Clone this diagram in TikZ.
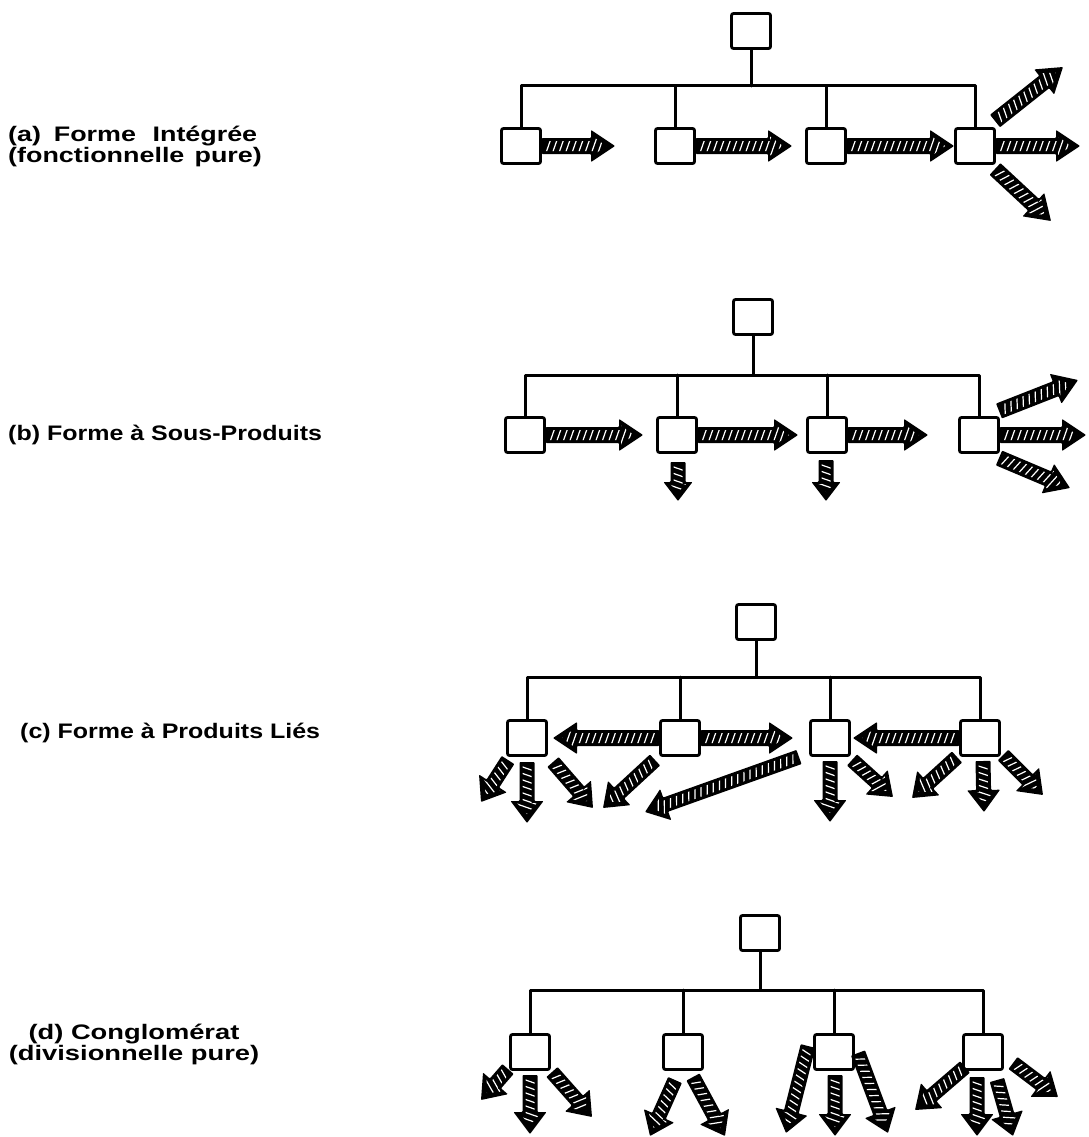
\documentclass[tikz,border=0pt]{standalone}
\usepackage{fontspec}
\setmainfont{Liberation Sans}
\usetikzlibrary{calc}

% two-line labels with a fixed line spacing
\newcommand{\lblleft}[2]{\vtop{\baselineskip=21pt\lineskiplimit=-200pt\halign{##\hfil\cr#1\cr#2\cr}}}
\newcommand{\lblcenter}[2]{\vtop{\baselineskip=21pt\lineskiplimit=-200pt\halign{\hfil##\hfil\cr#1\cr#2\cr}}}

% hatched block arrow: {from}{to}{shaft half width}{head half width}{head length}
\newdimen\hdx \newdimen\hdy
\newcommand{\harrowgen}[5]{%
  \path (#1) coordinate (hA) (#2) coordinate (hB);
  \pgfextractx{\hdx}{\pgfpointdiff{\pgfpointanchor{hA}{center}}{\pgfpointanchor{hB}{center}}}%
  \pgfextracty{\hdy}{\pgfpointdiff{\pgfpointanchor{hA}{center}}{\pgfpointanchor{hB}{center}}}%
  \pgfmathsetmacro\hlen{veclen(\hdx,\hdy)}%
  \pgfmathsetmacro\hang{atan2(\hdy,\hdx)}%
  \pgfmathtruncatemacro\hlenint{\hlen}%
  \begin{scope}[shift={(hA)}, rotate=\hang, x=1pt, y=1pt]
    \fill[black, rounded corners=0.8pt] (0,-#3) -- ({\hlen-#5},-#3) -- ({\hlen-#5},-#4) -- (\hlen,0)
      -- ({\hlen-#5},#4) -- ({\hlen-#5},#3) -- (0,#3) -- cycle;
    \begin{scope}
      \clip (2.5,{-#3+3}) -- ({\hlen-#5+2},{-#3+3}) -- ({\hlen-#5+2},{-#4+6.5}) -- ({\hlen-9},0)
        -- ({\hlen-#5+2},{#4-6.5}) -- ({\hlen-#5+2},{#3-3}) -- (2.5,{#3-3}) -- cycle;
      \foreach \s in {0,6.5,...,\hlenint}
        \draw[white, line width=1.2pt] ({\s-0.35*#4},{-#4}) -- ({\s+0.35*#4},{#4});
    \end{scope}
  \end{scope}}
\newcommand{\harrow}[2]{\harrowgen{#1}{#2}{8}{16}{24}}
\newcommand{\harrowb}[2]{\harrowgen{#1}{#2}{7.5}{16.5}{22}}
\newcommand{\harrows}[2]{\harrowgen{#1}{#2}{7.5}{14.5}{19}}

\tikzset{
  unit/.style={draw, line width=2.8pt, minimum width=39pt, minimum height=35pt,
    inner sep=0pt, rounded corners=2pt, fill=white},
  tree/.style={line width=3pt, line cap=round, line join=round},
  lbl/.style={inner sep=0pt, font=\fontsize{21}{21}\selectfont\bfseries}
}

\begin{document}
\begin{tikzpicture}[x=1pt, y=-1pt]
\fill[white] (0,0) rectangle (1088,1137);
\useasboundingbox (0,0) rectangle (1088,1137);

% ---------- labels ----------
\node[lbl, anchor=base west] (la) at (8,141)
  {\scalebox{1.28}[1]{\lblleft{(a)\hskip 10pt Forme\hskip 13pt Intégrée}{(fonctionnelle\hskip 8pt pure)}}};
\node[lbl, anchor=base west] (lb) at (8,440) {\scalebox{1.19}[1]{(b) Forme à Sous-Produits}};
\node[lbl, anchor=base west] (lc) at (20,738) {\scalebox{1.19}[1]{(c) Forme à Produits Liés}};
\node[lbl, anchor=base] (ld) at (134,1039)
  {\scalebox{1.3}[1]{\lblcenter{(d) Conglomérat}{(divisionnelle pure)}}};

% ---------- (a) integrated form ----------
\node[unit] (a0) at (751,31) {};
\node[unit] (a1) at (521,146) {};
\node[unit] (a2) at (675,146) {};
\node[unit] (a3) at (826,146) {};
\node[unit] (a4) at (975,146) {};
\coordinate (abus) at (751,86);
\draw[tree] (a0.south) -- (abus);
\draw[tree] (a1.north) -- (a1.north |- abus) -- (a4.north |- abus) -- (a4.north);
\draw[tree] (a2.north) -- (a2.north |- abus);
\draw[tree] (a3.north) -- (a3.north |- abus);
\coordinate (a1t) at (615,146);
\coordinate (a2t) at (792,146);
\coordinate (a4t) at (1080,146);
\coordinate (a4us) at (995,121);
\coordinate (a4ut) at (1063,67);
\coordinate (a4ds) at (995,169);
\coordinate (a4dt) at (1051,221);
\harrow{a1.east}{a1t}
\harrow{a2.east}{a2t}
\harrow{a3.east}{a4.west}
\harrow{a4.east}{a4t}
\harrow{a4us}{a4ut}
\harrow{a4ds}{a4dt}

% ---------- (b) by-products form ----------
\node[unit] (b0) at (753,317) {};
\node[unit] (b1) at (525,435) {};
\node[unit] (b2) at (677,435) {};
\node[unit] (b3) at (827,435) {};
\node[unit] (b4) at (979,435) {};
\coordinate (bbus) at (753,375);
\draw[tree] (b0.south) -- (bbus);
\draw[tree] (b1.north) -- (b1.north |- bbus) -- (b4.north |- bbus) -- (b4.north);
\draw[tree] (b2.north) -- (b2.north |- bbus);
\draw[tree] (b3.north) -- (b3.north |- bbus);
\coordinate (b1t) at (643,435);
\coordinate (b2t) at (798,435);
\coordinate (b3t) at (928,435);
\coordinate (b4t) at (1086,435);
\coordinate (b4us) at (999,411);
\coordinate (b4ut) at (1078,380);
\coordinate (b4ds) at (999,458);
\coordinate (b4dt) at (1070,488);
\coordinate (b2ds) at (678,462);
\coordinate (b2dt) at (678,501);
\coordinate (b3ds) at (826,460);
\coordinate (b3dt) at (826,501);
\harrow{b1.east}{b1t}
\harrow{b2.east}{b2t}
\harrow{b3.east}{b3t}
\harrow{b4.east}{b4t}
\harrow{b4us}{b4ut}
\harrow{b4ds}{b4dt}
\harrows{b2ds}{b2dt}
\harrows{b3ds}{b3dt}

% ---------- (c) related products form ----------
\node[unit] (c0) at (756,622) {};
\node[unit] (c1) at (527,738) {};
\node[unit] (c2) at (680,738) {};
\node[unit] (c3) at (830,738) {};
\node[unit] (c4) at (980,738) {};
\coordinate (cbus) at (756,677);
\draw[tree] (c0.south) -- (cbus);
\draw[tree] (c1.north) -- (c1.north |- cbus) -- (c4.north |- cbus) -- (c4.north);
\draw[tree] (c2.north) -- (c2.north |- cbus);
\draw[tree] (c3.north) -- (c3.north |- cbus);
\coordinate (c2lt) at (553,738);
\coordinate (c2rt) at (793,738);
\coordinate (c4lt) at (853,738);
\harrow{c2.west}{c2lt}
\harrow{c2.east}{c2rt}
\harrow{c4.west}{c4lt}
\coordinate (c1ls) at (508,760);  \coordinate (c1lt) at (481,802);
\coordinate (c1ds) at (527,762);  \coordinate (c1dt) at (527,823);
\coordinate (c1rs) at (553,762);  \coordinate (c1rt) at (593,808);
\coordinate (c2ls) at (655,760);  \coordinate (c2lb) at (603,808);
\coordinate (c3ls) at (799,757);  \coordinate (c3lt) at (645,812);
\coordinate (c3ds) at (830,761);  \coordinate (c3dt) at (830,822);
\coordinate (c3rs) at (852,760);  \coordinate (c3rt) at (893,797);
\coordinate (c4ls) at (957,757);  \coordinate (c4lb) at (912,798);
\coordinate (c4ds) at (983,761);  \coordinate (c4dt) at (984,812);
\coordinate (c4rs) at (1003,755); \coordinate (c4rt) at (1043,795);
\harrowb{c1ls}{c1lt}
\harrowb{c1ds}{c1dt}
\harrowb{c1rs}{c1rt}
\harrowb{c2ls}{c2lb}
\harrowb{c3ls}{c3lt}
\harrowb{c3ds}{c3dt}
\harrowb{c3rs}{c3rt}
\harrowb{c4ls}{c4lb}
\harrowb{c4ds}{c4dt}
\harrowb{c4rs}{c4rt}

% ---------- (d) conglomerate ----------
\node[unit] (d0) at (760,933) {};
\node[unit] (d1) at (530,1052) {};
\node[unit] (d2) at (683,1052) {};
\node[unit] (d3) at (834,1052) {};
\node[unit] (d4) at (983,1052) {};
\coordinate (dbus) at (760,990);
\draw[tree] (d0.south) -- (dbus);
\draw[tree] (d1.north) -- (d1.north |- dbus) -- (d4.north |- dbus) -- (d4.north);
\draw[tree] (d2.north) -- (d2.north |- dbus);
\draw[tree] (d3.north) -- (d3.north |- dbus);
\coordinate (d1ls) at (508,1069); \coordinate (d1lt) at (481,1100);
\coordinate (d1ds) at (530,1075); \coordinate (d1dt) at (530,1134);
\coordinate (d1rs) at (552,1072); \coordinate (d1rt) at (592,1117);
\coordinate (d2ls) at (675,1080); \coordinate (d2lt) at (650,1136);
\coordinate (d2rs) at (693,1077); \coordinate (d2rt) at (725,1136);
\coordinate (d3ls) at (808,1046); \coordinate (d3lt) at (786,1133);
\coordinate (d3ds) at (835,1075); \coordinate (d3dt) at (835,1136);
\coordinate (d3rs) at (858,1053); \coordinate (d3rt) at (888,1133);
\coordinate (d4ls) at (965,1067); \coordinate (d4lt) at (915,1110);
\coordinate (d4ds) at (977,1077); \coordinate (d4dt) at (977,1136);
\coordinate (d4ms) at (997,1080); \coordinate (d4mt) at (1013,1136);
\coordinate (d4rs) at (1013,1063);\coordinate (d4rt) at (1058,1097);
\harrowb{d1ls}{d1lt}
\harrowb{d1ds}{d1dt}
\harrowb{d1rs}{d1rt}
\harrowb{d2ls}{d2lt}
\harrowb{d2rs}{d2rt}
\harrowb{d3ls}{d3lt}
\harrowb{d3ds}{d3dt}
\harrowb{d3rs}{d3rt}
\harrowb{d4ls}{d4lt}
\harrowb{d4ds}{d4dt}
\harrowb{d4ms}{d4mt}
\harrowb{d4rs}{d4rt}
\end{tikzpicture}
\end{document}
